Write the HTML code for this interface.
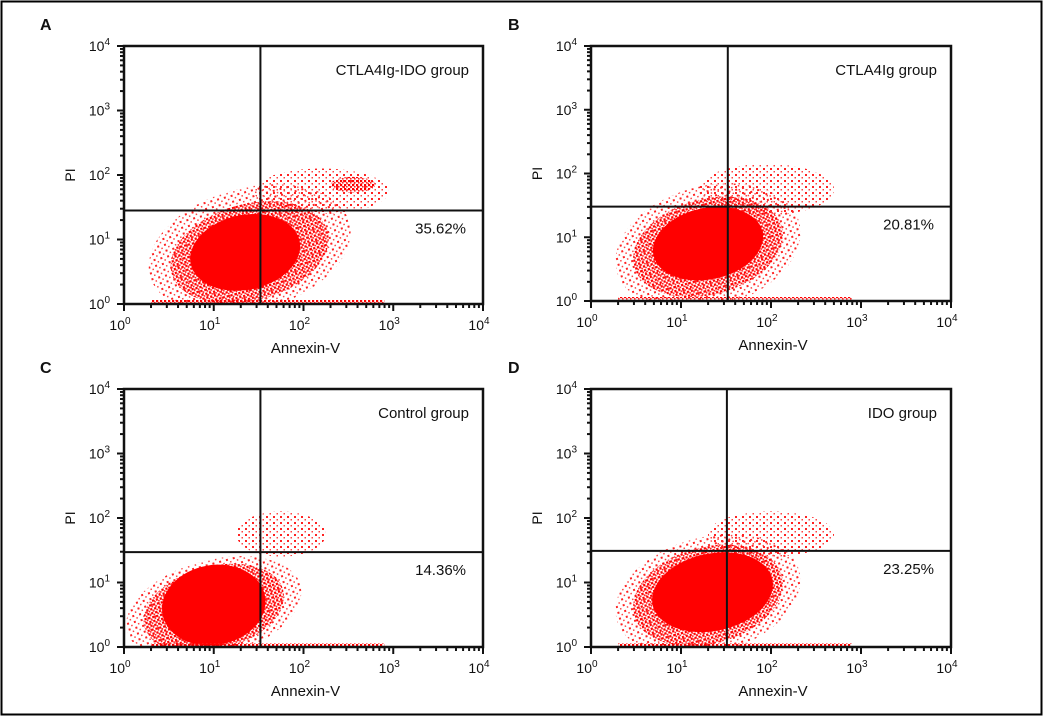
<!DOCTYPE html>
<html><head><meta charset="utf-8"><style>
html,body{margin:0;padding:0;background:#fff;}
svg{display:block;font-family:"Liberation Sans",sans-serif;}
</style></head><body>
<svg id="fig" width="1043" height="716" viewBox="0 0 1043 716">
<defs>
<pattern id="mid" width="4" height="4" patternUnits="userSpaceOnUse"><rect width="2.2" height="2.2" fill="#f00"/><rect x="2" y="2" width="1.6" height="1.6" fill="#f22"/></pattern>
<pattern id="sparse" width="7" height="6" patternUnits="userSpaceOnUse"><rect width="2" height="2" fill="#f22"/><rect x="3.5" y="3" width="1.5" height="1.5" fill="#f44"/></pattern>
</defs>
<rect x="1.5" y="1.5" width="1040" height="713" fill="#fff" stroke="#000" stroke-width="2"/>
</svg>
<script>
// panel configuration
const panelLetters = ["A","B","C","D"];
const groupNames = ["CTLA4Ig-IDO group","CTLA4Ig group","Control group","IDO group"];
const percentLabels = ["35.62%","20.81%","14.36%","23.25%"];
const gateX = [1.52, 1.52, 1.52, 1.51];   // log10 Annexin-V gate
const gateY = [1.45, 1.48, 1.47, 1.49];   // log10 PI gate
const tickExps = [0,1,2,3,4];
// clusters: panel index, log x center, log y center, log x radius, log y radius, rotation, density
const clPanel = [0,0,0,0,0, 1,1,1,1, 2,2,2,2, 3,3,3,3];
const clX =     [1.4,1.4,2.2,2.55,1.35, 1.3,1.3,1.95,1.3, 1.0,1.0,1.75,1.0, 1.3,1.3,2.0,1.35];
const clY =     [0.85,0.8,1.75,1.85,0.8, 0.85,0.85,1.75,0.9, 0.6,0.6,1.75,0.65, 0.8,0.8,1.75,0.85];
const clRx =    [1.15,0.9,0.75,0.25,0.62, 1.05,0.85,0.75,0.62, 1.0,0.8,0.5,0.58, 1.05,0.85,0.7,0.68];
const clRy =    [0.95,0.75,0.35,0.12,0.58, 0.95,0.75,0.4,0.56, 0.75,0.65,0.35,0.62, 0.9,0.75,0.35,0.6];
const clRot =   [-15,-15,0,0,-12, -15,-15,0,-12, -15,-15,0,-10, -15,-15,0,-12];
const clDens =  ["sparse","mid","sparse","mid","dense", "sparse","mid","sparse","dense", "sparse","mid","sparse","dense", "sparse","mid","sparse","dense"];

const boxes = [[124,46,483,304],[591,46,951,301],[124,389,483,647],[591,389,951,647]];
const letterPos = [[40,30],[508,30],[40,373],[508,373]];
const NS = "http://www.w3.org/2000/svg";
const svg = document.getElementById("fig");
function mk(tag, attrs, parent){const e=document.createElementNS(NS,tag);for(const k in attrs)e.setAttribute(k,attrs[k]);(parent||svg).appendChild(e);return e;}

boxes.forEach((b,p)=>{
  const [x0,y0,x1,y1]=b;
  const sx=v=>x0+(x1-x0)*v/4, sy=v=>y1-(y1-y0)*v/4;
  const g=mk("g",{});
  
  
  const clipId="clip"+p;
  const cp=mk("clipPath",{id:clipId},g); mk("rect",{x:x0,y:y0,width:x1-x0,height:y1-y0},cp);
  const dots=mk("g",{"clip-path":"url(#"+clipId+")"},g);
  
  
  clPanel.forEach((pi,i)=>{
    if(pi!==p)return;
    const cx=sx(clX[i]),cy=sy(clY[i]);
    const rx=(x1-x0)/4*clRx[i], ry=(y1-y0)/4*clRy[i];
    const e=mk("ellipse",{cx:cx,cy:cy,rx:rx,ry:ry,fill:clDens[i]==="dense"?"#f00":"url(#"+clDens[i]+")",transform:`rotate(${clRot[i]} ${cx} ${cy})`},dots);
    
    
  });
  const base=mk("rect",{x:sx(0.3),y:y1-4,width:sx(2.9)-sx(0.3),height:4,fill:"url(#mid)"},dots);
  
  
  const gv=mk("line",{x1:sx(gateX[p]),x2:sx(gateX[p]),y1:y0,y2:y1,stroke:"#111","stroke-width":2},g);
  
  
  const gh=mk("line",{x1:x0,x2:x1,y1:sy(gateY[p]),y2:sy(gateY[p]),stroke:"#111","stroke-width":2},g);
  
  
  const fr=mk("rect",{x:x0,y:y0,width:x1-x0,height:y1-y0,fill:"none",stroke:"#111","stroke-width":2.5},g);
  
  
  for(let d=0;d<4;d++){for(let m=1;m<10;m++){
    const v=d+Math.log10(m), L=m===1?7:4;
    mk("line",{x1:sx(v),x2:sx(v),y1:y1,y2:y1+L,stroke:"#111","stroke-width":2},g);
    mk("line",{x1:x0,x2:x0-L,y1:sy(v),y2:sy(v),stroke:"#111","stroke-width":2},g);
  }}
  mk("line",{x1:x1,x2:x1,y1:y1,y2:y1+7,stroke:"#111","stroke-width":2},g);
  mk("line",{x1:x0,x2:x0-7,y1:y0,y2:y0,stroke:"#111","stroke-width":2},g);
  tickExps.forEach(t=>{
    const tx=mk("text",{x:sx(t)-4,y:y1+26,"font-size":14,"text-anchor":"middle",fill:"#111"},g);
    
    
    tx.innerHTML='10<tspan dy="-6" font-size="10">'+t+'</tspan>';
    const ty=mk("text",{x:x0-14,y:sy(t)+5,"font-size":14,"text-anchor":"end",fill:"#111"},g);
    
    
    ty.innerHTML='10<tspan dy="-6" font-size="10">'+t+'</tspan>';
  });
  const xt=mk("text",{x:sx(2)+2,y:y1+49,"font-size":15,"text-anchor":"middle",fill:"#111"},g);
  
  
  xt.textContent="Annexin-V";
  const yt=mk("text",{x:0,y:0,"font-size":14,"text-anchor":"middle",fill:"#111",transform:`translate(${x0-49} ${sy(2)}) rotate(-90)`},g);
  
  
  yt.textContent="PI";
  const gn=mk("text",{x:x1-14,y:y0+29,"font-size":15,"text-anchor":"end",fill:"#111"},g);
  
  
  gn.textContent=groupNames[p];
  const pc=mk("text",{x:x1-17,y:sy(gateY[p])+23,"font-size":15,"text-anchor":"end",fill:"#111"},g);
  
  
  pc.textContent=percentLabels[p];
  const lt=mk("text",{x:letterPos[p][0],y:letterPos[p][1],"font-size":16,"font-weight":"bold",fill:"#111"},g);
  
  
  lt.textContent=panelLetters[p];
});
</script>
</body></html>
